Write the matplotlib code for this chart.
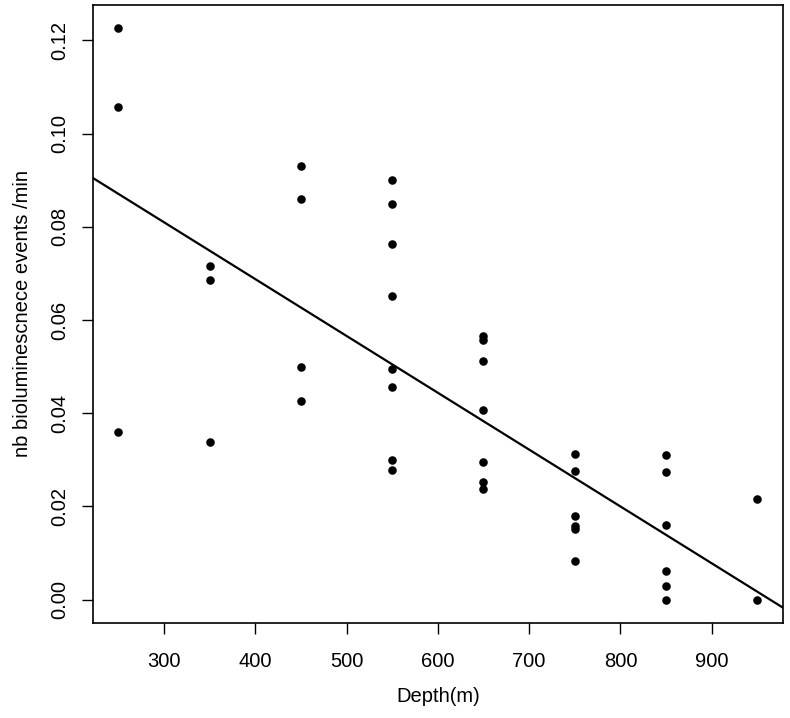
import matplotlib
matplotlib.use('Agg')  # no display
import matplotlib.pyplot as plt
import numpy as np

plt.rcParams['font.family'] = ['Liberation Sans', 'DejaVu Sans']

# depth (m) and bioluminescence events per minute
depth_250 = [0.1226, 0.1057, 0.0359]
depth_350 = [0.0716, 0.0686, 0.0338]
depth_450 = [0.0930, 0.0860, 0.0500, 0.0426]
depth_550 = [0.0900, 0.0848, 0.0764, 0.0651, 0.0494, 0.0456, 0.0299, 0.0279]
depth_650 = [0.0565, 0.0557, 0.0513, 0.0408, 0.0295, 0.0253, 0.0237]
depth_750 = [0.0312, 0.0276, 0.0180, 0.0159, 0.0151, 0.0083]
depth_850 = [0.0311, 0.0275, 0.0161, 0.0062, 0.0029, 0.0]
depth_950 = [0.0217, 0.0]

groups = {250: depth_250, 350: depth_350, 450: depth_450, 550: depth_550,
          650: depth_650, 750: depth_750, 850: depth_850, 950: depth_950}

# regression line as drawn in the reference
fit_intercept = 0.1176
fit_slope = -0.000122

x_ticks = [300, 400, 500, 600, 700, 800, 900]
y_ticks = [0.00, 0.02, 0.04, 0.06, 0.08, 0.10, 0.12]

depth = np.concatenate([[d] * len(v) for d, v in groups.items()])
events = np.concatenate([v for v in groups.values()])

fig = plt.figure(figsize=(7.9, 7.18), dpi=100)
ax = fig.add_axes([0.1173, 0.133, 0.8738, 0.860])

ax.scatter(depth, events, s=38, color='black', zorder=3, linewidths=0)

xlim = (222, 978)
ax.axline((0, fit_intercept), slope=fit_slope, color='black', linewidth=1.6)

ax.set_xlim(*xlim)
ax.set_ylim(-0.0049, 0.1276)
ax.set_xticks(x_ticks)
ax.set_yticks(y_ticks)
ax.set_yticklabels([f"{v:.2f}" for v in y_ticks], rotation=90, va='center')
ax.tick_params(axis='both', direction='out', length=8, width=1, labelsize=14.5, colors='black')
ax.tick_params(axis='x', pad=13)
ax.tick_params(axis='y', pad=9)
for sp in ax.spines.values():
    sp.set_linewidth(1.2)

ax.set_xlabel('Depth(m)', fontsize=14.5, labelpad=12)
ax.set_ylabel('nb bioluminescnece events /min', fontsize=14.5, labelpad=13)

plt.savefig('out.png', dpi=100)
plt.close()
